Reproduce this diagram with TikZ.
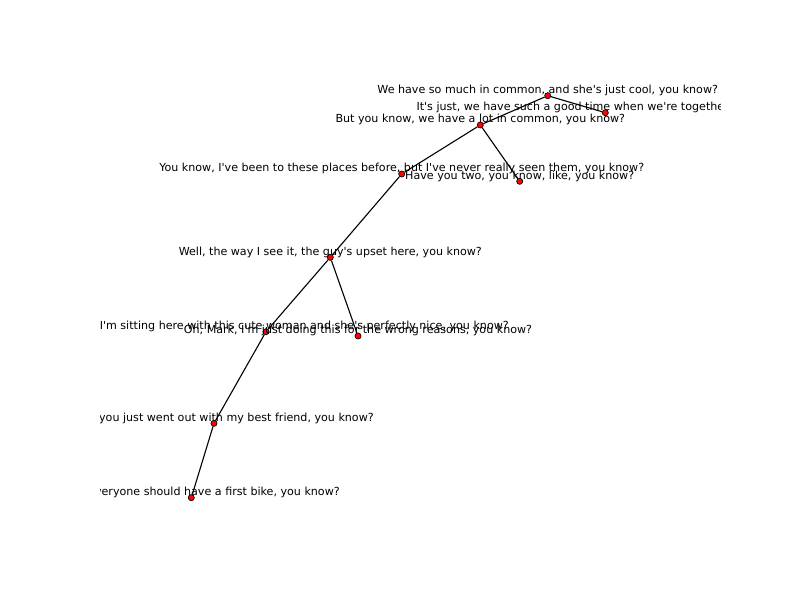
\documentclass[tikz,border=0pt]{standalone}
\usepackage{fontspec}
\setmainfont{DejaVu Sans}[Ligatures=TeXOff]
\begin{document}
\begin{tikzpicture}[x=0.75pt,y=-0.75pt,line width=0.83pt]
		\tikzstyle{turn}=[draw,shape=circle,fill=red,line width=0.5pt,minimum size=4.6pt,inner sep=0pt]
		\tikzstyle{says}=[inner sep=0pt,anchor=base,font=\fontsize{8.33pt}{10pt}\selectfont]
		
		\useasboundingbox[fill=white] (0,0) rectangle (800,600);
		
		\node[turn](s0) at (547.7,95.7){};
		\node[turn](s1) at (605.3,112.7){};
		\node[turn](s2) at (480.3,125){};
		\node[turn](s3) at (401.7,174){};
		\node[turn](s4) at (519.7,181.3){};
		\node[turn](s5) at (330.3,257.3){};
		\node[turn](s6) at (266,331.7){};
		\node[turn](s7) at (358,336){};
		\node[turn](s8) at (214,423.3){};
		\node[turn](s9) at (191.3,497.7){};
		
		\draw (s0) -- (s1);
		\draw (s0) -- (s2);
		
		\draw (s2) -- (s3);
		\draw (s2) -- (s4);
		
		\draw (s3) -- (s5);
		
		\draw (s5) -- (s6);
		\draw (s5) -- (s7);
		
		\draw (s6) -- (s8);
		\draw (s8) -- (s9);
		
		\begin{scope}
		\clip (100,60) rectangle (720,540);
		\node[says](t0) at (547.7,93.6){We have so much in common, and she's just cool, you know?};
		\node[says,anchor=base west](t1) at (416,110.6){It's just, we have such a good time when we're together, you know?};
		\node[says](t2) at (480.3,122.9){But you know, we have a lot in common, you know?};
		\node[says](t3) at (401.7,171.9){You know, I've been to these places before, but I've never really seen them, you know?};
		\node[says](t4) at (519.7,179.2){Have you two, you know, like, you know?};
		\node[says](t5) at (330.3,255.2){Well, the way I see it, the guy's upset here, you know?};
		\node[says,anchor=base east](t6) at (509.3,329.6){I'm sitting here with this cute woman and she's perfectly nice, you know?};
		\node[says](t7) at (358,333.9){Oh, Mark, I'm just doing this for the wrong reasons, you know?};
		\node[says,anchor=base east](t8) at (374.3,421.2){you just went out with my best friend, you know?};
		\node[says,anchor=base east](t9) at (340.3,495.6){everyone should have a first bike, you know?};
		\end{scope}
\end{tikzpicture}
\end{document}
